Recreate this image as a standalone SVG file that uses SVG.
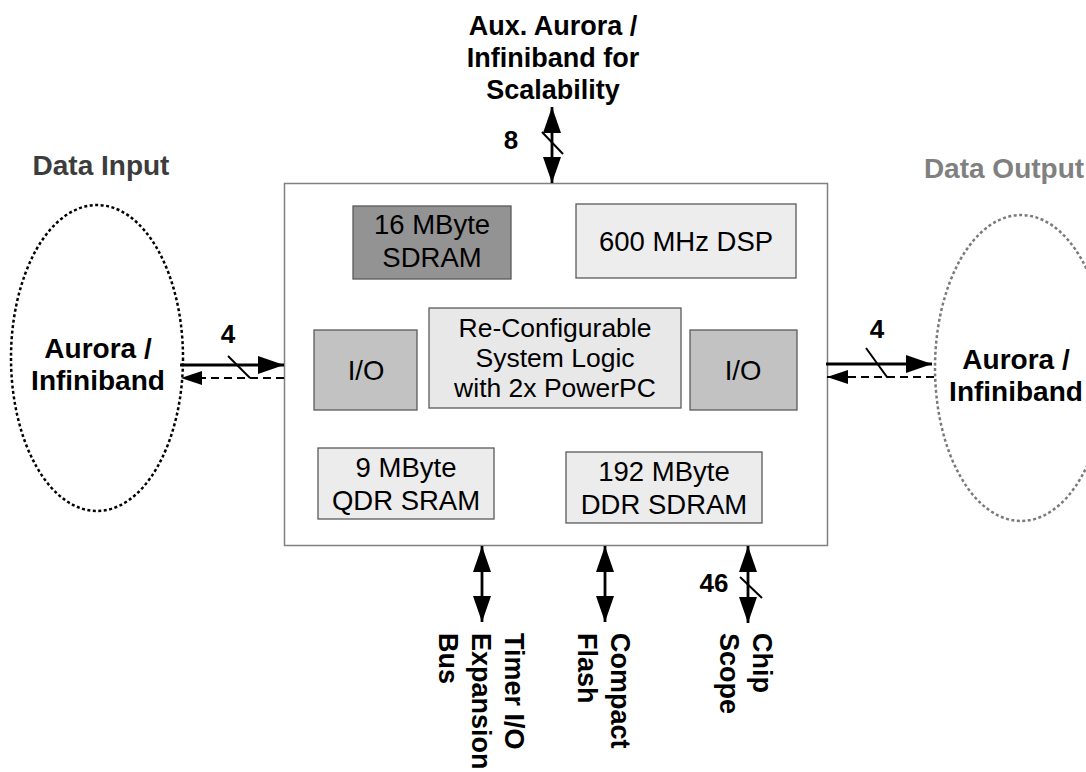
<svg xmlns="http://www.w3.org/2000/svg" width="1086" height="772" viewBox="0 0 1086 772">
<defs>
<style>
text{font-family:"Liberation Sans",Arial,sans-serif;}
.b{font-weight:bold;font-size:28px;fill:#000;}
.v{font-weight:bold;font-size:27px;fill:#000;}
.n{font-size:27.5px;fill:#000;}
.num{font-weight:bold;font-size:26px;fill:#000;}
.box{stroke:#5a5a5a;stroke-width:1.3;}
.conn{stroke:#000;stroke-width:2.8;fill:none;}
.dash{stroke:#000;stroke-width:2;stroke-dasharray:8 5;fill:none;}
.sl{stroke:#000;stroke-width:2;fill:none;}
</style>
<marker id="ah" markerUnits="userSpaceOnUse" markerWidth="26" markerHeight="18" refX="26" refY="9" orient="auto-start-reverse" viewBox="0 0 26 18"><path d="M0,0 L26,9 L0,18 z" fill="#000"/></marker>
<marker id="ahs" markerUnits="userSpaceOnUse" markerWidth="21" markerHeight="14" refX="21" refY="7" orient="auto" viewBox="0 0 21 14"><path d="M0,0 L21,7 L0,14 z" fill="#000"/></marker>
</defs>
<rect width="1086" height="772" fill="#fff"/>

<g id="main-board">
<rect x="284.5" y="183.5" width="543" height="362" fill="#fff" stroke="#808080" stroke-width="1.5"/>
</g>
<g id="sdram16">
<rect class="box" x="353" y="206" width="158" height="73" fill="#939393"/>
<text class="n" x="432" y="234" text-anchor="middle">16 MByte</text>
<text class="n" x="432" y="267" text-anchor="middle">SDRAM</text>
</g>
<g id="dsp">
<rect class="box" x="576" y="204" width="220" height="74" fill="#ededed"/>
<text class="n" x="686" y="251" text-anchor="middle">600 MHz DSP</text>
</g>
<g id="io-left">
<rect class="box" x="314" y="330" width="103" height="80" fill="#c2c2c2"/>
<text class="n" x="366" y="380" text-anchor="middle">I/O</text>
</g>
<g id="logic">
<rect class="box" x="429" y="308" width="252" height="100" fill="#e8e8e8"/>
<text class="n" x="555" y="337" text-anchor="middle" style="font-size:26.5px">Re-Configurable</text>
<text class="n" x="555" y="367" text-anchor="middle" style="font-size:26.5px">System Logic</text>
<text class="n" x="555" y="397" text-anchor="middle" style="font-size:26.5px">with 2x PowerPC</text>
</g>
<g id="io-right">
<rect class="box" x="690" y="330" width="107" height="80" fill="#c2c2c2"/>
<text class="n" x="743" y="380" text-anchor="middle">I/O</text>
</g>
<g id="qdr">
<rect class="box" x="318" y="448" width="176" height="71" fill="#ececec"/>
<text class="n" x="406" y="477" text-anchor="middle">9 MByte</text>
<text class="n" x="406" y="510" text-anchor="middle">QDR SRAM</text>
</g>
<g id="ddr">
<rect class="box" x="566" y="452" width="196" height="71" fill="#ececec"/>
<text class="n" x="664" y="481" text-anchor="middle">192 MByte</text>
<text class="n" x="664" y="514" text-anchor="middle">DDR SDRAM</text>
</g>

<g id="data-input">
<text class="b" x="101" y="175" text-anchor="middle" style="fill:#3c3c3c">Data Input</text>
<ellipse cx="97" cy="358" rx="86" ry="153" fill="none" stroke="#000" stroke-width="2.5" stroke-dasharray="3 2.5"/>
<text class="b" x="98" y="358" text-anchor="middle">Aurora /</text>
<text class="b" x="98" y="390" text-anchor="middle">Infiniband</text>
</g>
<g id="data-output">
<text class="b" x="1004" y="178" text-anchor="middle" style="fill:#808080">Data Output</text>
<ellipse cx="1021" cy="368" rx="86" ry="153" fill="none" stroke="#7a7a7a" stroke-width="2.5" stroke-dasharray="3 2.5"/>
<text class="b" x="1016" y="369" text-anchor="middle">Aurora /</text>
<text class="b" x="1016" y="401" text-anchor="middle">Infiniband</text>
</g>
<g id="aux">
<text class="b" x="553" y="35" text-anchor="middle" style="font-size:27px">Aux. Aurora /</text>
<text class="b" x="553" y="67" text-anchor="middle" style="font-size:27px">Infiniband for</text>
<text class="b" x="553" y="99" text-anchor="middle" style="font-size:27px">Scalability</text>
</g>
<g id="timer-io">
<text class="v" transform="translate(505,633) rotate(90)">Timer I/O</text>
<text class="v" transform="translate(472,633) rotate(90)">Expansion</text>
<text class="v" transform="translate(439,633) rotate(90)">Bus</text>
</g>
<g id="compact-flash">
<text class="v" transform="translate(611,633) rotate(90)">Compact</text>
<text class="v" transform="translate(578,633) rotate(90)">Flash</text>
</g>
<g id="chip-scope">
<text class="v" transform="translate(753,633) rotate(90)">Chip</text>
<text class="v" transform="translate(720,633) rotate(90)">Scope</text>
</g>

<g id="connectors">
<line class="conn" x1="180" y1="365" x2="284" y2="365" marker-end="url(#ah)"/>
<line class="dash" x1="284" y1="378" x2="181" y2="378" marker-end="url(#ahs)"/>
<line class="sl" x1="228" y1="356" x2="250" y2="378"/>
<text class="num" x="228" y="343" text-anchor="middle">4</text>

<line class="conn" x1="826" y1="364" x2="932" y2="364" marker-end="url(#ah)"/>
<line class="dash" x1="934" y1="377" x2="827" y2="377" marker-end="url(#ahs)"/>
<polyline class="sl" points="866,348 887,377 892,377"/>
<text class="num" x="877" y="338" text-anchor="middle">4</text>

<line class="conn" x1="552" y1="107" x2="552" y2="183" marker-start="url(#ah)" marker-end="url(#ah)"/>
<line class="sl" x1="542" y1="132" x2="563" y2="154"/>
<text class="num" x="511" y="149" text-anchor="middle">8</text>

<line class="conn" x1="482" y1="546" x2="482" y2="622" marker-start="url(#ah)" marker-end="url(#ah)"/>
<line class="conn" x1="605" y1="546" x2="605" y2="622" marker-start="url(#ah)" marker-end="url(#ah)"/>
<line class="conn" x1="748" y1="546" x2="748" y2="623" marker-start="url(#ah)" marker-end="url(#ah)"/>
<line class="sl" x1="740" y1="577" x2="762" y2="598"/>
<text class="num" x="714" y="592" text-anchor="middle">46</text>
</g>
</svg>
